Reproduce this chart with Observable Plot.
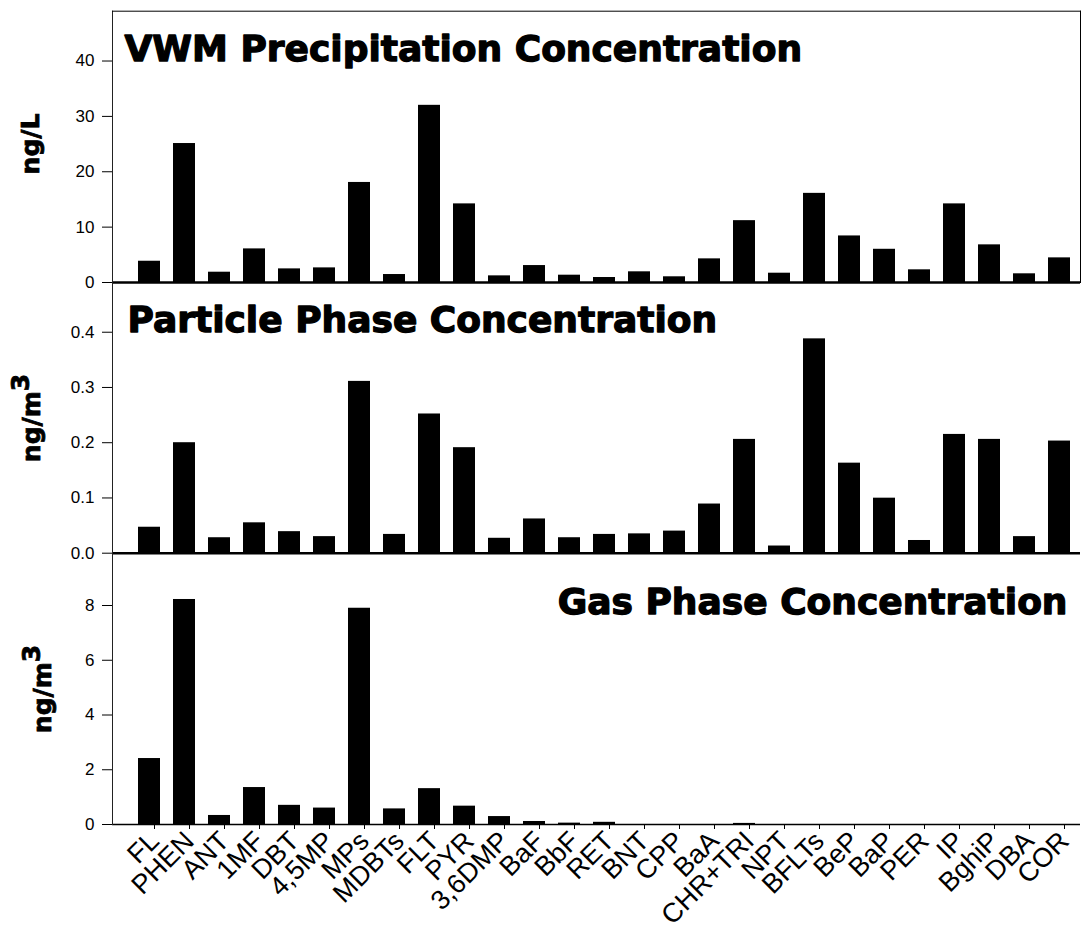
<!DOCTYPE html>
<html>
<head>
<meta charset="utf-8">
<script src="https://cdn.jsdelivr.net/npm/d3@7"></script>
<script src="https://cdn.jsdelivr.net/npm/@observablehq/plot@0.6"></script>
<style>
  body { margin: 0; background: #fff; }
  #chart { position: relative; width: 1084px; height: 932px; overflow: hidden; background: #fff; }
  #chart svg { position: absolute; left: 0; }
</style>
</head>
<body>
<div id="chart"></div>
<script>
// ---- data ----
const categories = ["FL","PHEN","ANT","1MF","DBT","4,5MP","MPs","MDBTs","FLT","PYR","3,6DMP","BaF","BbF","RET","BNT","CPP","BaA","CHR+TRI","NPT","BFLTs","BeP","BaP","PER","IP","BghiP","DBA","COR"];
const precipitation = [3.84, 25.1, 1.86, 6.07, 2.46, 2.64, 18.07, 1.44, 32.0, 14.2, 1.2, 3.06, 1.32, 0.9, 1.93, 1.03, 4.27, 11.17, 1.68, 16.1, 8.41, 6.0, 2.29, 14.2, 6.8, 1.57, 4.45];
const particle = [0.047, 0.200, 0.028, 0.055, 0.039, 0.030, 0.311, 0.034, 0.252, 0.191, 0.027, 0.062, 0.028, 0.034, 0.035, 0.040, 0.089, 0.206, 0.013, 0.388, 0.163, 0.0996, 0.023, 0.215, 0.206, 0.030, 0.203];
const gas = [2.41, 8.22, 0.33, 1.35, 0.70, 0.60, 7.90, 0.57, 1.31, 0.67, 0.29, 0.11, 0.05, 0.08, 0, 0, 0, 0.04, 0, 0, 0, 0, 0, 0, 0, 0, 0];
const ticksPrecip = [0, 10, 20, 30, 40];
const ticksParticle = [0, 0.1, 0.2, 0.3, 0.4];
const ticksGas = [0, 2, 4, 6, 8];
const titles = ["VWM Precipitation Concentration", "Particle Phase Concentration", "Gas Phase Concentration"];
const unitLabels = [["ng/L", ""], ["ng/m", "3"], ["ng/m", "3"]];

const rows = vals => categories.map((c, i) => ({name: c, value: vals[i]}));
const FONT = "'Liberation Sans', Arial, Helvetica, sans-serif";
const BOLD = "'DejaVu Sans', 'Liberation Sans', Arial, sans-serif";
const chart = document.getElementById("chart");

function makePanel(o) {
  const marks = [
    Plot.barY(rows(o.values), {x: "name", y: "value", fill: "black"}),
    Plot.ruleY([0], {stroke: "black", strokeWidth: o.baseWidth}),
    Plot.frame({anchor: "left", stroke: "#222", strokeWidth: 1}),
    Plot.axisY({ticks: o.ticks, tickFormat: o.fmt, tickSize: 10, tickPadding: 8, fontSize: 17, label: null}),
    Plot.text([o.title], {text: d => d, frameAnchor: o.titleAnchor, textAnchor: o.titleTextAnchor, lineAnchor: "bottom",
      dx: o.titleDx, dy: o.titleDy, fontFamily: BOLD, fontWeight: "bold", fontSize: 36, fill: "black",
      stroke: "black", strokeWidth: 1.3})
  ];
  if (o.box) {
    marks.push(Plot.frame({anchor: "top", stroke: "black", strokeWidth: 1}));
    marks.push(Plot.frame({anchor: "right", stroke: "black", strokeWidth: 1}));
  }
  if (o.xAxis) {
    marks.push(Plot.axisX({tickRotate: -45, tickSize: 5, tickPadding: 7, fontSize: 27, label: null, dx: 5}));
  }
  const svg = Plot.plot({
    width: 1084, height: o.height,
    marginTop: o.marginTop, marginBottom: o.marginBottom, marginLeft: 112, marginRight: 4,
    style: {fontFamily: FONT, background: "transparent", overflow: "visible", color: "black"},
    x: {domain: categories, range: [130.2, 1076.6], paddingInner: 0.38, paddingOuter: 0.19, align: 0.5, axis: o.xAxis ? undefined : null},
    y: {domain: o.yDomain},
    marks
  });
  svg.style.top = o.top + "px";
  chart.appendChild(svg);
  const t = d3.select(svg).append("text")
    .attr("transform", `translate(${o.labelX},${o.labelY}) rotate(-90)`)
    .attr("text-anchor", "middle")
    .attr("font-family", BOLD).attr("font-weight", "bold").attr("font-size", 25)
    .attr("fill", "black").attr("stroke", "black").attr("stroke-width", 0.8);
  t.append("tspan").text(o.unit[0]);
  if (o.unit[1]) t.append("tspan").attr("dy", -11).text(o.unit[1]);
}

makePanel({top: 0, height: 290, marginTop: 10.7, marginBottom: 8, yDomain: [0, 49], ticks: ticksPrecip, fmt: d3.format("d"),
  values: precipitation, title: titles[0], titleAnchor: "top-left", titleTextAnchor: "start", titleDx: 12, titleDy: 49.3,
  baseWidth: 2.5, box: true, xAxis: false, unit: unitLabels[0], labelX: 39, labelY: 144});

makePanel({top: 282, height: 280, marginTop: 0, marginBottom: 9.3, yDomain: [0, 0.49], ticks: ticksParticle, fmt: d3.format(".1f"),
  values: particle, title: titles[1], titleAnchor: "top-left", titleTextAnchor: "start", titleDx: 15, titleDy: 49.7,
  baseWidth: 2.5, box: false, xAxis: false, unit: unitLabels[1], labelX: 40, labelY: 136});

makePanel({top: 553, height: 379, marginTop: 0, marginBottom: 108, yDomain: [0, 9.9], ticks: ticksGas, fmt: d3.format("d"),
  values: gas, title: titles[2], titleAnchor: "top-right", titleTextAnchor: "end", titleDx: -13, titleDy: 60,
  baseWidth: 1.5, box: false, xAxis: true, unit: unitLabels[2], labelX: 51, labelY: 136});
</script>
</body>
</html>
